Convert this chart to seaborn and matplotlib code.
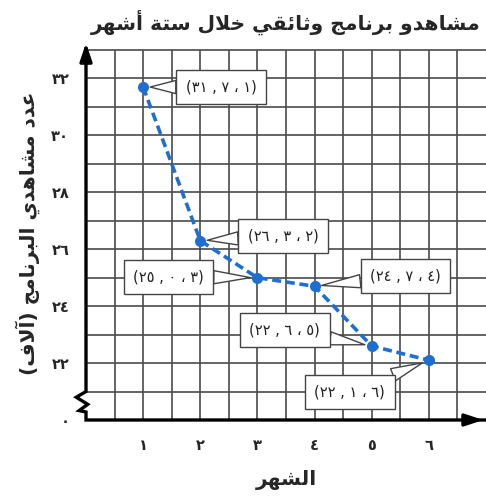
import matplotlib
matplotlib.use("Agg")
import matplotlib.pyplot as plt
import seaborn as sns
import pandas as pd

# ---------------- data ----------------
months = [1, 2, 3, 4, 5, 6]
viewers = [31.7, 26.3, 25.0, 24.7, 22.6, 22.1]
x_tick_labels = ["١", "٢", "٣", "٤", "٥", "٦"]
y_tick_values = [20, 22, 24, 26, 28, 30, 32]
y_tick_labels = ["٠", "٢٢", "٢٤", "٢٦", "٢٨", "٣٠", "٣٢"]
title_text = "مشاهدو برنامج وثائقي خلال ستة أشهر"
xlabel_text = "الشهر"
ylabel_text = "عدد مشاهدي البرنامج (آلاف)"

# ---------------- Arabic shaping (matplotlib has no complex text layout) ----------------
FORMS = {
    'ا': ('\uFE8D', '\uFE8E', None, None), 'آ': ('\uFE81', '\uFE82', None, None),
    'أ': ('\uFE83', '\uFE84', None, None), 'إ': ('\uFE87', '\uFE88', None, None),
    'ب': ('\uFE8F', '\uFE90', '\uFE91', '\uFE92'), 'ة': ('\uFE93', '\uFE94', None, None),
    'ت': ('\uFE95', '\uFE96', '\uFE97', '\uFE98'), 'ث': ('\uFE99', '\uFE9A', '\uFE9B', '\uFE9C'),
    'ج': ('\uFE9D', '\uFE9E', '\uFE9F', '\uFEA0'), 'ح': ('\uFEA1', '\uFEA2', '\uFEA3', '\uFEA4'),
    'خ': ('\uFEA5', '\uFEA6', '\uFEA7', '\uFEA8'), 'د': ('\uFEA9', '\uFEAA', None, None),
    'ذ': ('\uFEAB', '\uFEAC', None, None), 'ر': ('\uFEAD', '\uFEAE', None, None),
    'ز': ('\uFEAF', '\uFEB0', None, None), 'س': ('\uFEB1', '\uFEB2', '\uFEB3', '\uFEB4'),
    'ش': ('\uFEB5', '\uFEB6', '\uFEB7', '\uFEB8'), 'ع': ('\uFEC9', '\uFECA', '\uFECB', '\uFECC'),
    'ف': ('\uFED1', '\uFED2', '\uFED3', '\uFED4'), 'ق': ('\uFED5', '\uFED6', '\uFED7', '\uFED8'),
    'ل': ('\uFEDD', '\uFEDE', '\uFEDF', '\uFEE0'), 'م': ('\uFEE1', '\uFEE2', '\uFEE3', '\uFEE4'),
    'ن': ('\uFEE5', '\uFEE6', '\uFEE7', '\uFEE8'), 'ه': ('\uFEE9', '\uFEEA', '\uFEEB', '\uFEEC'),
    'و': ('\uFEED', '\uFEEE', None, None), 'ي': ('\uFEF1', '\uFEF2', '\uFEF3', '\uFEF4'),
    'ئ': ('\uFE89', '\uFE8A', '\uFE8B', '\uFE8C'),
}
LAM_ALEF = {'ا': ('\uFEFB', '\uFEFC'), 'آ': ('\uFEF5', '\uFEF6'),
            'أ': ('\uFEF7', '\uFEF8'), 'إ': ('\uFEF9', '\uFEFA')}
MIRROR = {'(': ')', ')': '('}


def shape_ar(s):
    out = []
    i = 0
    prev_joins = False
    while i < len(s):
        c = s[i]
        nxt = s[i + 1] if i + 1 < len(s) else ''
        if c == 'ل' and nxt in LAM_ALEF:
            out.append(LAM_ALEF[nxt][1 if prev_joins else 0])
            prev_joins = False
            i += 2
            continue
        if c not in FORMS:
            out.append(MIRROR.get(c, c))
            prev_joins = False
            i += 1
            continue
        iso, fin, ini, med = FORMS[c]
        next_joins = nxt in FORMS and ini is not None
        if prev_joins and next_joins:
            g = med
        elif prev_joins:
            g = fin
        elif next_joins:
            g = ini
        else:
            g = iso
        out.append(g)
        prev_joins = ini is not None
        i += 1
    return ''.join(reversed(out))


AR_DIG = str.maketrans("0123456789", "٠١٢٣٤٥٦٧٨٩")


def callout_label(m, v):
    a, b = f"{v:.1f}".split(".")
    return f"({a.translate(AR_DIG)} , {b.translate(AR_DIG)} ، {str(m).translate(AR_DIG)})"


# ---------------- figure ----------------
sns.set_theme(style="white")
plt.rcParams['font.family'] = ['DejaVu Sans']
plt.rcParams['axes.unicode_minus'] = False

W, H = 486, 497
fig = plt.figure(figsize=(W / 100, H / 100), dpi=100)
ax = fig.add_axes([86 / W, 77 / H, 400 / W, 378.5 / H])
ax.set_xlim(0, 7.0)
ax.set_ylim(20, 33.3)
for sp in ax.spines.values():
    sp.set_visible(False)

grid_c = "#4a4a4a"
# grid
ax.vlines([i * 0.5 for i in range(1, 14)], 20, 33, color=grid_c, lw=1.2, zorder=1)
ax.hlines(list(range(21, 34)), 0, 7.0, color=grid_c, lw=1.2, zorder=1)

# axes with break and arrows
ax.plot([0, 0, -0.17, 0.03, -0.12, 0, 0, 7.0],
        [33.05, 21.0, 20.8, 20.55, 20.33, 20.28, 20, 20],
        color="black", lw=2.4, zorder=3, clip_on=False, solid_joinstyle="miter")
ax.annotate("", xy=(0, 33.35), xytext=(0, 32.6),
            arrowprops=dict(arrowstyle="-|>,head_length=0.9,head_width=0.3", color="black", lw=2.4),
            annotation_clip=False, zorder=4)
ax.annotate("", xy=(7.0, 20), xytext=(6.6, 20),
            arrowprops=dict(arrowstyle="-|>,head_length=0.9,head_width=0.3", color="black", lw=2.4),
            annotation_clip=False, zorder=4)

# data line
df = pd.DataFrame({"month": months, "viewers": viewers})
blue = "#1f6fd1"
sns.lineplot(data=df, x="month", y="viewers", ax=ax, color=blue, lw=2.6,
             linestyle=(0, (2.5, 1.3)), marker="o", markersize=8,
             markeredgewidth=0, zorder=5)

# ticks
ax.set_xticks(months)
ax.set_xticklabels(x_tick_labels, fontsize=10.5, fontweight="bold")
ax.set_yticks(y_tick_values)
ax.set_yticklabels(y_tick_labels, fontsize=10.5, fontweight="bold")
ax.tick_params(axis="x", length=0, pad=13)
ax.tick_params(axis="y", length=0, pad=12)
ax.set_xlabel("")
ax.set_ylabel("")

# callouts
offsets = [(78, 0), (83, 5), (-89, 1), (91, 10), (-87, 16), (-79, -32)]
for m, v, off in zip(months, viewers, offsets):
    ax.annotate(callout_label(m, v), xy=(m, v), xytext=off, textcoords="offset pixels",
                ha="center", va="center", fontsize=10.5, color="#222222", zorder=6,
                bbox=dict(boxstyle="square,pad=0.65", fc="white", ec="#444444", lw=1.0),
                arrowprops=dict(arrowstyle="wedge,tail_width=0.9,shrink_factor=0.5",
                                fc="white", ec="#444444", lw=1.0, shrinkA=0, shrinkB=5))

# texts
fig.text(286 / W, 1 - 22 / H, shape_ar(title_text), ha="center", va="center",
         fontsize=14.6, fontweight="bold")
fig.text(286 / W, 1 - 480 / H, shape_ar(xlabel_text), ha="center", va="center",
         fontsize=14.5, fontweight="bold")
fig.text(28 / W, 1 - 233 / H, shape_ar(ylabel_text), ha="center", va="center",
         rotation=90, fontsize=14.5, fontweight="bold")

fig.savefig("out.png", dpi=100)
